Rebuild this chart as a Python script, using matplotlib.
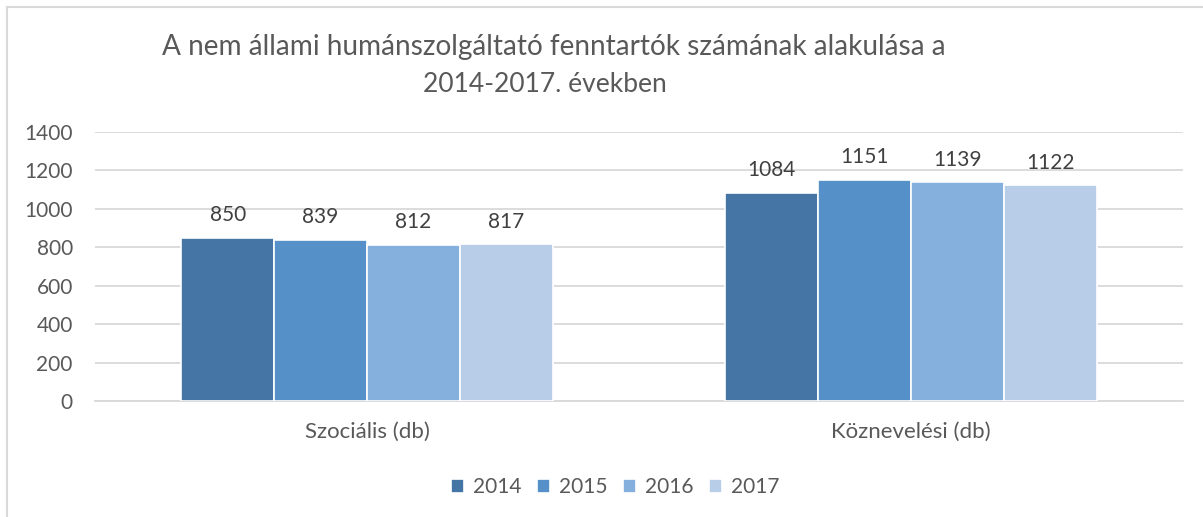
import numpy as np
import matplotlib.pyplot as plt
from matplotlib.lines import Line2D

categories = ['Szociális (db)', 'Köznevelési (db)']
years = ['2014', '2015', '2016', '2017']
values = {
    '2014': [850, 1084],
    '2015': [839, 1151],
    '2016': [812, 1139],
    '2017': [817, 1122],
}
colors = ['#4575A5', '#5591C8', '#85AFDC', '#B8CDE8']

plt.rcParams['font.family'] = ['Lato', 'DejaVu Sans']
txt = '#595959'

fig = plt.figure(figsize=(12.03, 5.17), dpi=100)
ax = fig.add_axes([95 / 1203, 1 - 401 / 517, (1183 - 95) / 1203, (401 - 132) / 517])

# chart frame (only top and left edges are visible in the crop)
fig.add_artist(Line2D([7 / 1203, 7 / 1203], [0, 1 - 7 / 517], transform=fig.transFigure,
                      color='#D9D9D9', lw=1.5))
fig.add_artist(Line2D([7 / 1203, 1], [1 - 7 / 517, 1 - 7 / 517], transform=fig.transFigure,
                      color='#D9D9D9', lw=1.5))

x = np.arange(len(categories))
group_w = 0.683
bw = group_w / len(years)
for i, yr in enumerate(years):
    pos = x - group_w / 2 + bw * (i + 0.5)
    bars = ax.bar(pos, values[yr], width=bw, color=colors[i], edgecolor='white',
                  linewidth=1.2, label=yr, zorder=3)
    for b, v in zip(bars, values[yr]):
        ax.text(b.get_x() + b.get_width() / 2, v + 65, str(v), ha='center', va='bottom',
                fontsize=15, color='#404040')

ax.set_xlim(-0.5, 1.5)
ax.set_ylim(0, 1400)
ax.set_yticks(range(0, 1401, 200))
ax.yaxis.grid(True, color='#D9D9D9', lw=1.3, zorder=0)
ax.set_axisbelow(True)
for s in ['top', 'right', 'left']:
    ax.spines[s].set_visible(False)
ax.spines['bottom'].set_color('#D9D9D9')
ax.spines['bottom'].set_linewidth(1.3)
ax.tick_params(axis='both', length=0, colors=txt)
ax.tick_params(axis='y', pad=16, labelsize=15)
ax.tick_params(axis='x', pad=15, labelsize=16)
ax.set_xticks(x)
ax.set_xticklabels(categories)

fig.text(554 / 1203, 1 - 47 / 517, 'A nem állami humánszolgáltató fenntartók számának alakulása a',
         ha='center', va='center', fontsize=20.2, color=txt)
fig.text(545 / 1203, 1 - 85 / 517, '2014-2017. években',
         ha='center', va='center', fontsize=19, color=txt)

fig.legend(loc='center', bbox_to_anchor=(615 / 1203, 1 - 487 / 517), ncol=4, frameon=False,
           fontsize=15, labelcolor=txt, handlelength=0.65, handleheight=0.65,
           handletextpad=0.4, columnspacing=0.75)

fig.savefig('out.png', dpi=100, facecolor='white')
